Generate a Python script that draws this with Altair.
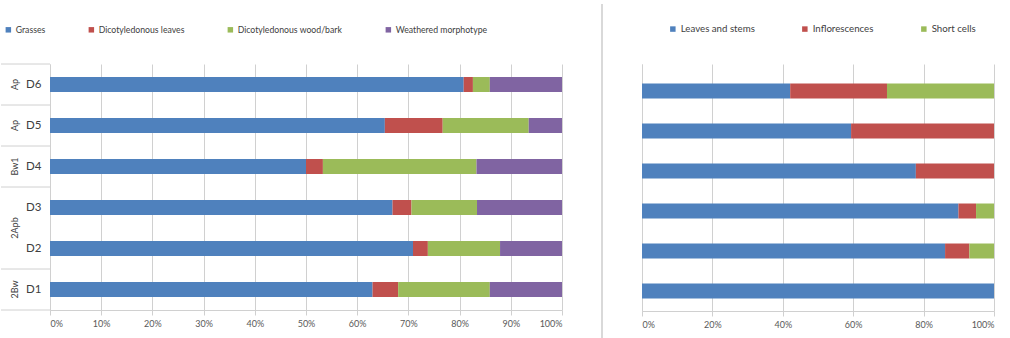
import altair as alt
import pandas as pd

# Sample rows, top to bottom
rows = ["D6", "D5", "D4", "D3", "D2", "D1"]

# Left panel: phytolith morphotype shares (%) per sample
morph_names = ["Grasses", "Dicotyledonous leaves", "Dicotyledonous wood/bark", "Weathered morphotype"]
grasses = [80.8, 65.4, 50.0, 66.9, 70.9, 63.0]
dicot_leaves = [1.8, 11.3, 3.3, 3.7, 2.9, 5.0]
dicot_wood = [3.3, 16.8, 30.0, 12.8, 14.1, 17.9]
weathered = [14.1, 6.5, 16.7, 16.6, 12.1, 14.1]
morph_colors = ["#4F81BD", "#C0504D", "#9BBB59", "#8064A2"]

# Right panel: grass phytolith origin shares (%) per sample
origin_names = ["Leaves and stems", "Inflorescences", "Short cells"]
leaves_stems = [42.1, 59.4, 77.8, 89.9, 86.1, 100.0]
inflorescences = [27.5, 40.6, 22.2, 5.0, 6.9, 0.0]
short_cells = [30.4, 0.0, 0.0, 5.1, 7.0, 0.0]
origin_colors = ["#4F81BD", "#C0504D", "#9BBB59"]

# Soil horizons grouping the samples
horizons = ["Ap", "Ap", "Bw1", "2Apb", "2Bw"]
horizon_first_row = ["D6", "D5", "D4", "D3", "D1"]
horizon_span = [1, 1, 1, 2, 1]

FONT = "Lato"
TEXT = "#404040"
GRID = "#d0d0d0"


def long_table(names, series):
    recs = []
    for k, (name, vals) in enumerate(zip(names, series)):
        for r, v in zip(rows, vals):
            recs.append({"sample": r, "category": name, "share": v, "idx": k})
    return pd.DataFrame(recs)


left_df = long_table(morph_names, [grasses, dicot_leaves, dicot_wood, weathered])
right_df = long_table(origin_names, [leaves_stems, inflorescences, short_cells])
hz_df = pd.DataFrame({"horizon": horizons, "sample": horizon_first_row, "span": horizon_span})
bottom_df = pd.DataFrame({"sample": [rows[-1]]})

label_pct = "datum.value + '%'"


def x_axis(step):
    return alt.Axis(
        values=list(range(0, 101, step)), labelExpr=label_pct, title=None,
        grid=True, gridColor=GRID, domainColor=GRID, tickColor=GRID,
        tickSize=5, labelPadding=4, labelFontSize=9, labelColor="#595959",
        labelFont=FONT,
    )


def legend(x, y, pad, size):
    return alt.Legend(orient="none", direction="horizontal", title=None,
                      legendX=x, legendY=y, symbolType="square",
                      symbolSize=30, symbolStrokeWidth=0, labelOffset=3,
                      columnPadding=pad, labelFontSize=size, labelFont=FONT,
                      labelColor=TEXT)


# ---- left panel ----
left_y = alt.Scale(domain=rows, paddingInner=0, paddingOuter=0)

left_bars = alt.Chart(left_df).mark_bar(height={"band": 0.366}).encode(
    y=alt.Y("sample:N", scale=left_y, sort=rows,
            axis=alt.Axis(title=None, ticks=False, labelPadding=9, labelFontSize=11.5,
                          labelColor=TEXT, labelFont=FONT, domainColor=GRID)),
    x=alt.X("share:Q", stack="zero", scale=alt.Scale(domain=[0, 100], nice=False),
            axis=x_axis(10)),
    color=alt.Color("category:N",
                    scale=alt.Scale(domain=morph_names, range=morph_colors),
                    legend=legend(-46, -39, 41, 8.7)),
    order=alt.Order("idx:Q"),
)

# horizon separators in the label gutter
hz_lines = alt.Chart(hz_df).mark_rule(color=GRID, strokeWidth=1).encode(
    y=alt.Y("sample:N", scale=left_y, sort=rows, bandPosition=0),
    x=alt.value(-49), x2=alt.value(0),
)
hz_bottom = alt.Chart(bottom_df).mark_rule(color=GRID, strokeWidth=1).encode(
    y=alt.Y("sample:N", scale=left_y, sort=rows, bandPosition=1),
    x=alt.value(-49), x2=alt.value(0),
)

hz_labels = []
for s in sorted(set(horizon_span)):
    hz_labels.append(
        alt.Chart(hz_df).transform_filter(alt.datum.span == s)
        .mark_text(angle=270, fontSize=9, font=FONT, color=TEXT, align="center", baseline="middle")
        .encode(
            y=alt.Y("sample:N", scale=left_y, sort=rows, bandPosition=s / 2),
            x=alt.value(-35),
            text="horizon:N",
        )
    )

left = alt.layer(left_bars, hz_lines, hz_bottom, *hz_labels).properties(width=512, height=246)

# ---- right panel ----
right_y = alt.Scale(domain=rows, paddingInner=0, paddingOuter=0.0875, align=1)

right_bars = alt.Chart(right_df).mark_bar(height={"band": 0.375}).encode(
    y=alt.Y("sample:N", scale=right_y, sort=rows,
            axis=alt.Axis(title=None, ticks=False, labels=False, domainColor=GRID)),
    x=alt.X("share:Q", stack="zero", scale=alt.Scale(domain=[0, 100], nice=False),
            axis=x_axis(20)),
    color=alt.Color("category:N",
                    scale=alt.Scale(domain=origin_names, range=origin_colors),
                    legend=legend(26, -40, 45, 9.7)),
    order=alt.Order("idx:Q"),
)

# vertical divider between the two panels
divider = alt.Chart(bottom_df).mark_rule(color="#d9d9d9", strokeWidth=2).encode(
    x=alt.value(-40), y=alt.value(-60), y2=alt.value(280),
)

right = alt.layer(right_bars, divider).properties(width=352, height=247)

chart = (
    alt.hconcat(left, right, spacing=80, bounds="flush")
    .resolve_scale(color="independent", x="independent", y="independent")
    .properties(padding={"left": 0, "top": 3, "right": 0, "bottom": 0})
    .configure_view(stroke=None)
)

chart.save("out.html", embed_options={"renderer": "svg", "actions": False})
